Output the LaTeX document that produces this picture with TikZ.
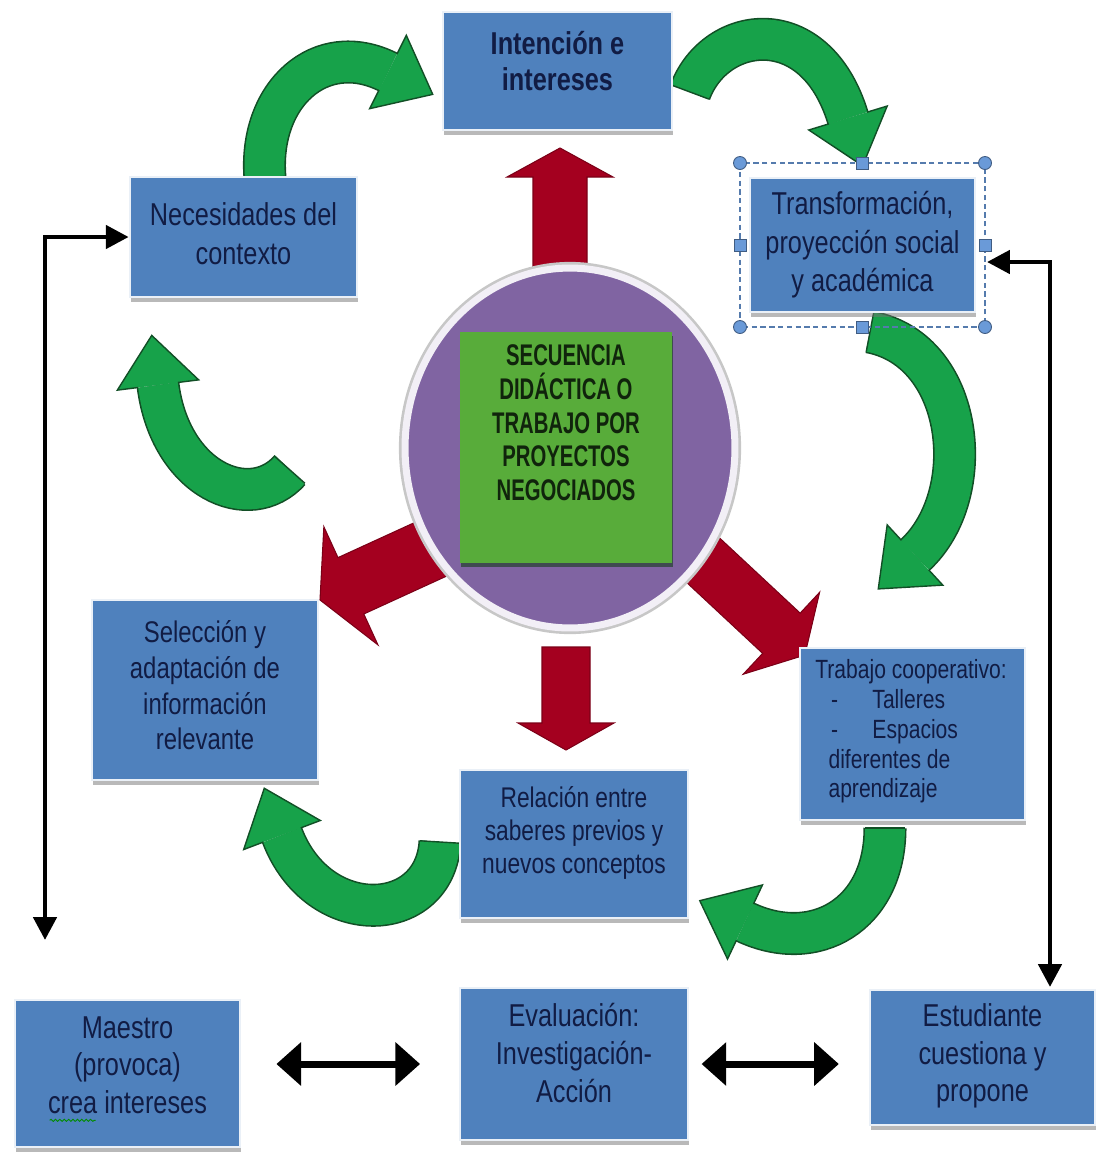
\documentclass[tikz,border=0pt]{standalone}
\usepackage{fontspec}
\setmainfont{Liberation Sans}[FakeStretch=0.8]
\newfontfamily\corefont{Liberation Sans}[FakeStretch=0.68]
\usetikzlibrary{arrows.meta,calc,shadows,shapes.geometric,decorations.pathmorphing}

\definecolor{boxblue}{HTML}{4F81BD}
\definecolor{boxink}{HTML}{111C44}
\definecolor{hubpurple}{HTML}{8064A2}
\definecolor{coregreen}{HTML}{58AC3A}
\definecolor{coreink}{HTML}{10240C}
\definecolor{bandgreen}{HTML}{17A24A}
\definecolor{bandedge}{HTML}{124F26}
\definecolor{blockred}{HTML}{A4001F}
\definecolor{handleblue}{HTML}{6A9AD8}

%curved green arrow: start, control 1, control 2, end
\newcommand{\greenarrow}[4]{%
  \draw[band edge] #1 .. controls #2 and #3 .. #4;
  \draw[band body] #1 .. controls #2 and #3 .. #4;
  \filldraw[band head] ($#4!0.4cm!90:#3$) -- ($#4!0.82cm!90:#3$) -- ($#4!-1cm!#3$)
    -- ($#4!0.82cm!-90:#3$) -- ($#4!0.4cm!-90:#3$);
  \draw[bandedge,line width=0.8pt] ($#1!0.4cm!90:#2$) -- ($#1!0.4cm!-90:#2$);
}

%red block arrow: base, angle, length, shaft width, head width, head length
\newcommand{\blockarrow}[6]{%
  \begin{scope}[shift={#1},rotate=#2]
    \filldraw[red block] (0,-#4/2) -- ({#3-#6},-#4/2) -- ({#3-#6},-#5/2) -- (#3,0)
      -- ({#3-#6},#5/2) -- ({#3-#6},#4/2) -- (0,#4/2) -- cycle;
  \end{scope}}

\begin{document}
\begin{tikzpicture}[x=0.02cm,y=-0.02cm,
  box/.style 2 args={rectangle,fill=boxblue,draw=boxblue!12,line width=1.5pt,
    minimum width=#1,minimum height=#2,inner sep=0pt,
    drop shadow={shadow xshift=0.6pt,shadow yshift=-2.8pt,fill=black!55}},
  boxtext/.style={anchor=north,align=center,inner sep=0pt,text=boxink,
    font=\fontsize{18}{22.5}\selectfont},
  band edge/.style={draw=bandedge,line width=24.5pt},
  band body/.style={draw=bandgreen,line width=22.7pt},
  band head/.style={fill=bandgreen,draw=bandedge,line width=0.8pt,line join=miter},
  red block/.style={fill=blockred,draw=blockred!75!black,line width=0.6pt},
  conn/.style={line width=2.8pt,arrows={Triangle[length=13pt,width=13pt]-Triangle[length=13pt,width=13pt]}},
  dbl/.style={line width=4pt,arrows={Triangle[length=14pt,width=24pt]-Triangle[length=14pt,width=24pt]}},
  handle/.style={fill=handleblue,draw=handleblue!60!black,line width=0.5pt}]
  \useasboundingbox (0,0) rectangle (1103,1157);

  %green cycle arrows
  \greenarrow{(265,178)}{(258,95)}{(320,38)}{(388,72)} %contexto -> intencion
  \greenarrow{(690,92)}{(715,25)}{(815,10)}{(848,118)} %intencion -> transformacion
  \greenarrow{(870,332)}{(965,350)}{(980,495)}{(915,555)} %transformacion -> trabajo
  \greenarrow{(885,828)}{(885,915)}{(815,955)}{(745,922)} %trabajo -> relacion
  \greenarrow{(440,842)}{(435,925)}{(318,930)}{(282,835)} %relacion -> seleccion
  \greenarrow{(290,470)}{(250,515)}{(170,480)}{(158,385)} %seleccion side -> contexto

  %red arrows out of the hub
  \blockarrow{(560,290)}{90}{142}{54}{106}{29} %up
  \blockarrow{(566,647)}{-90}{103}{48}{96}{27} %down
  \blockarrow{(440,545)}{204.6}{132}{62}{130}{34} %left
  \blockarrow{(690,548)}{-43}{157}{55}{112}{32} %right

  %hub
  \node[ellipse,minimum width=6.6cm,minimum height=7.2cm,inner sep=0pt,fill=hubpurple,
    draw=white!90!hubpurple,line width=4pt,preaction={draw=black!22,line width=7pt}] (hub) at (570,448) {};
  \node[fill=coregreen,minimum width=4.24cm,minimum height=4.62cm,
    drop shadow={shadow xshift=0.8pt,shadow yshift=-2.2pt,fill=black!80!green}] (core) at (566,447.5) {};
  \node[boxtext,text=coreink,font=\fontsize{17}{19.3}\corefont\bfseries] (coretext) at (566,344)
    {SECUENCIA\\DIDÁCTICA O\\TRABAJO POR\\PROYECTOS\\NEGOCIADOS};

  %boxes
  \node[box={4.58cm}{2.36cm}] (intbox) at (557.5,71) {};
  \node[box={4.54cm}{2.40cm}] (necbox) at (243.5,237) {};
  \node[box={4.50cm}{2.68cm}] (trabox) at (862.5,245) {};
  \node[box={4.52cm}{3.60cm}] (selbox) at (205,690) {};
  \node[box={4.56cm}{2.96cm}] (relbox) at (574,844) {};
  \node[box={4.50cm}{3.44cm}] (coopbox) at (912.5,734) {};
  \node[box={4.50cm}{2.94cm}] (maebox) at (127.5,1073.5) {};
  \node[box={4.56cm}{3.04cm}] (evabox) at (574,1064) {};
  \node[box={4.50cm}{2.70cm}] (estbox) at (982.5,1057.5) {};

  %box texts
  \node[boxtext,font=\fontsize{18}{20.4}\selectfont\bfseries] (int) at (557.5,31) {Intención e\\intereses};
  \node[boxtext] (nec) at (243.5,202) {Necesidades del\\contexto};
  \node[boxtext,font=\fontsize{18}{22}\selectfont] (tra) at (862.5,191) {Transformación,\\proyección social\\y académica};
  \node[boxtext,font=\fontsize{17}{20.4}\selectfont] (sel) at (205,620) {Selección y\\adaptación de\\información\\relevante};
  \node[boxtext,font=\fontsize{16.2}{18.7}\selectfont] (rel) at (574,786) {Relación entre\\saberes previos y\\nuevos conceptos};
  \node[boxtext,anchor=north west,align=left,font=\fontsize{15}{17}\selectfont] (coop) at (815,659)
    {Trabajo cooperativo:\\\hspace*{0.6em}-\hspace{1.3em}Talleres\\\hspace*{0.6em}-\hspace{1.3em}Espacios\\\hspace*{0.5em}diferentes de\\\hspace*{0.5em}aprendizaje};
  \node[boxtext,font=\fontsize{18}{21.5}\selectfont] (mae) at (127.5,1016) {Maestro\\(provoca)\\crea intereses};
  \node[boxtext,font=\fontsize{18}{21.5}\selectfont] (eva) at (574,1003) {Evaluación:\\Investigación-\\Acción};
  \node[boxtext,font=\fontsize{18}{21.5}\selectfont] (est) at (982.5,1003) {Estudiante\\cuestiona y\\propone};
  \draw[green!55!black,line width=0.5pt,decorate,decoration={snake,amplitude=0.6pt,segment length=2.5pt}]
    ($(mae.south west)+(2,6)$) -- +(46,0); %spelling mark

  %selection handles
  \draw[handleblue!80!black,densely dashed,line width=0.6pt] (740,163) rectangle (985,327);
  \foreach \p in {(740,163),(985,163),(740,327),(985,327)}
    \filldraw[handle] \p circle (0.13cm);
  \foreach \p in {(862,163),(862,327),(740,245),(985,245)}
    \filldraw[handle,shift={\p}] (-6,-6) rectangle (6,6);

  %black connectors
  \coordinate (leftend) at (45,940);
  \coordinate (rightend) at (1050,987);
  \coordinate (rightin) at (987,262);
  \draw[conn] (leftend) |- (necbox.west); %maestro side
  \draw[conn] (rightend) |- (rightin); %estudiante side
  \draw[dbl,shorten <=20pt,shorten >=22pt] (maebox.east |- evabox.west) -- (evabox.west);
  \draw[dbl,shorten <=7pt,shorten >=17pt] (evabox.east) -- (estbox.west |- evabox.east);
\end{tikzpicture}
\end{document}
